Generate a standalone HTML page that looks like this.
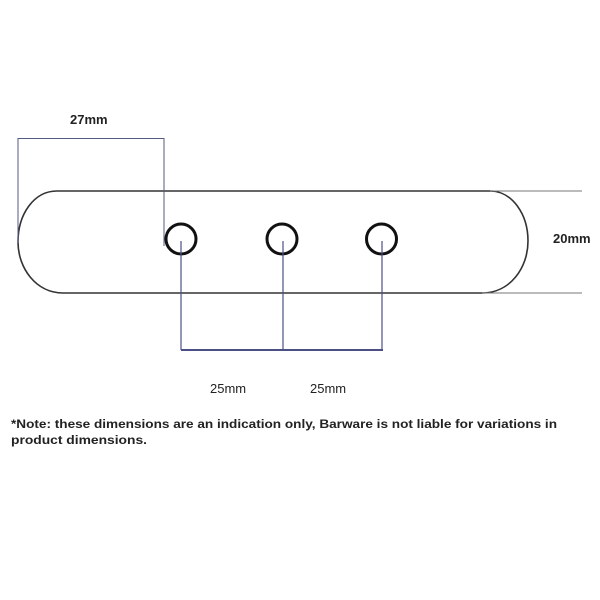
<!DOCTYPE html>
<html><head><style>
html,body{margin:0;padding:0;background:#fff;}
svg{display:block;}
</style></head><body>
<svg width="600" height="600" viewBox="0 0 600 600" xmlns="http://www.w3.org/2000/svg">
<rect width="600" height="600" fill="#fff"/>
<!-- outline -->
<path d="M57 191 H490 C512 191 528 214 528 241 C528 268 510 293 482 293 H63 C36 293 18 268 18 242 C18 214 34 191 57 191 Z" fill="none" stroke="#333" stroke-width="1.6"/>
<line x1="490" y1="191" x2="582" y2="191" stroke="#777" stroke-width="1"/>
<line x1="482" y1="293" x2="582" y2="293" stroke="#777" stroke-width="1"/>
<!-- 27mm bracket -->
<polyline points="18,243 18,138.5 164,138.5 164,246" fill="none" stroke="#555a80" stroke-width="1"/>
<!-- circles -->
<circle cx="181" cy="239" r="15" fill="none" stroke="#111" stroke-width="3"/>
<circle cx="282" cy="239" r="15" fill="none" stroke="#111" stroke-width="3"/>
<circle cx="381.5" cy="239" r="15" fill="none" stroke="#111" stroke-width="3"/>
<!-- 25mm dims -->
<g stroke="#4b4f85" stroke-width="1.2" fill="none">
<line x1="181" y1="241" x2="181" y2="350"/>
<line x1="283" y1="241" x2="283" y2="350"/>
<line x1="382" y1="241" x2="382" y2="350"/>
<line x1="181" y1="350" x2="383" y2="350" stroke-width="2"/>
</g>
<g font-family="Liberation Sans, sans-serif" fill="#222">
<text x="70" y="124" font-size="13" font-weight="bold">27mm</text>
<text x="553" y="243" font-size="13" font-weight="bold">20mm</text>
<text x="210" y="393" font-size="13">25mm</text>
<text x="310" y="393" font-size="13">25mm</text>
<text x="11" y="428" font-size="12.4" font-weight="bold" textLength="546" lengthAdjust="spacingAndGlyphs">*Note: these dimensions are an indication only, Barware is not liable for variations in</text>
<text x="11" y="444" font-size="12.4" font-weight="bold" textLength="136" lengthAdjust="spacingAndGlyphs">product dimensions.</text>
</g>
</svg>
</body></html>
